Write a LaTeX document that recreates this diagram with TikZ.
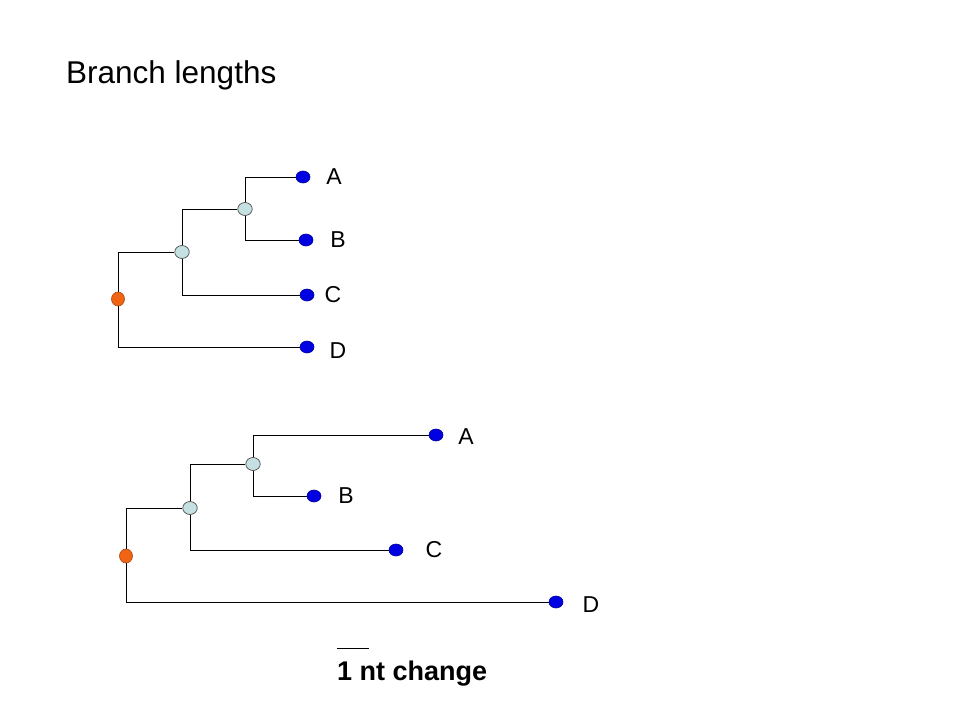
\documentclass[tikz,border=0pt]{standalone}
\usepackage{fontspec}
\setmainfont{Liberation Sans}
\usetikzlibrary{shapes.geometric}
\definecolor{leafblue}{RGB}{0,0,225}
\definecolor{innerblue}{RGB}{196,224,224}
\definecolor{rootorange}{RGB}{240,100,20}
\tikzset{
  leaf/.style={ellipse,draw=leafblue!70!black,fill=leafblue,line width=0.6pt,
    minimum width=14pt,minimum height=12pt,inner sep=0pt},
  inner/.style={ellipse,draw=black!70,fill=innerblue,line width=0.7pt,
    minimum width=14.5pt,minimum height=13pt,inner sep=0pt},
  root/.style={ellipse,draw=rootorange!70!black,fill=rootorange,line width=0.6pt,
    minimum width=13pt,minimum height=14pt,inner sep=0pt},
  taxon/.style={font=\fontsize{23}{26}\selectfont,inner sep=0pt},
  branch/.style={line width=0.9pt}
}
\begin{document}
\begin{tikzpicture}[x=1pt,y=-1pt]
  \useasboundingbox (0,0) rectangle (960,720);
  \node[anchor=base west,inner sep=0pt,font=\fontsize{31.5}{36}\selectfont] (title) at (66,83) {Branch lengths};
  % top tree
  \draw
    (118,299) node[root] (r1){}
    (182,252) node[inner] (i1){}
    (245,209) node[inner] (j1){}
    (303,177) node[leaf] (a1){}
    (306,240) node[leaf] (b1){}
    (307,295) node[leaf] (c1){}
    (307,347) node[leaf] (d1){};
  \draw
    (334,177) node[taxon] (ta1){A}
    (338,240) node[taxon] (tb1){B}
    (333,295) node[taxon] (tc1){C}
    (338,351) node[taxon] (td1){D};
  \begin{scope}[branch]
    \draw (r1) |- (i1);
    \draw (r1) |- (d1);
    \draw (i1) |- (j1);
    \draw (i1) |- (c1);
    \draw (j1) |- (a1);
    \draw (j1) |- (b1);
  \end{scope}
  % bottom tree
  \draw
    (126,556) node[root] (r2){}
    (190,508) node[inner] (i2){}
    (253,464) node[inner] (j2){}
    (436,435) node[leaf] (a2){}
    (314,496) node[leaf] (b2){}
    (396,550) node[leaf] (c2){}
    (556,602) node[leaf] (d2){};
  \draw
    (466,437) node[taxon] (ta2){A}
    (346,496) node[taxon] (tb2){B}
    (434,550) node[taxon] (tc2){C}
    (591,605) node[taxon] (td2){D};
  \begin{scope}[branch]
    \draw (r2) |- (i2);
    \draw (r2) |- (d2);
    \draw (i2) |- (j2);
    \draw (i2) |- (c2);
    \draw (j2) |- (a2);
    \draw (j2) |- (b2);
  \end{scope}
  % scale bar
  \coordinate (s1) at (337,648);
  \coordinate (s2) at (369,648);
  \draw[branch] (s1) -- (s2);
  \node[anchor=base west,inner sep=0pt,font=\bfseries\fontsize{27}{31}\selectfont] (scale) at (337,680) {1 nt change};
\end{tikzpicture}
\end{document}
